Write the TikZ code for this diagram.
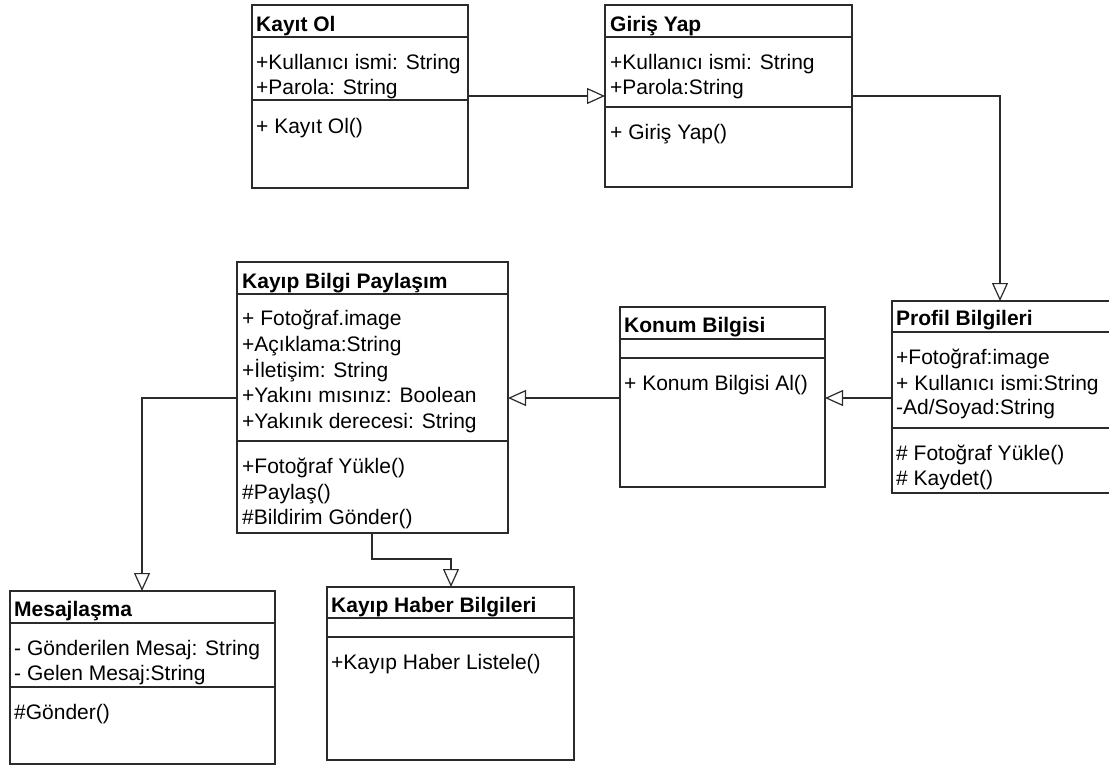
\documentclass[tikz,border=0pt]{standalone}
\usepackage{fontspec}
\setmainfont{Liberation Sans}
\usetikzlibrary{arrows.meta}
\definecolor{ln}{HTML}{2B2B2B}
\tikzset{
  box/.style={draw=ln, line width=1.2pt, fill=white, anchor=north west, inner sep=0pt, outer sep=0pt},
  txt/.style={anchor=base west, inner sep=0pt, font=\fontsize{21}{25}\selectfont},
  ttl/.style={txt, font=\fontsize{21}{25}\selectfont\bfseries},
  gen/.style={draw=ln, line width=1.2pt, -{Triangle[open, length=18pt, width=16pt, line width=1.2pt]}},
  dv/.style={draw=ln, line width=1.2pt}
}
\newcommand{\umlbox}[7]{%
  \node[box, minimum width=#4pt-#2pt, minimum height=#5pt-#3pt] (#1) at (#2,#3) {};
  \draw[dv] (#1.west |- 0,#6) -- (#1.east |- 0,#6);
  \draw[dv] (#1.west |- 0,#7) -- (#1.east |- 0,#7);
}
\begin{document}
\begin{tikzpicture}[x=1pt,y=-1pt]
\useasboundingbox (0,0) rectangle (1109,766);
\fill[white] (0,0) rectangle (1109,766);

% Kayit Ol
\umlbox{kayit}{252}{5}{468}{188}{37}{100}
\node[ttl] (kayit-t) at (256,31) {Kayıt Ol};
\node[txt] (kayit-a1) at (256,69) {+Kullanıcı ismi: String};
\node[txt] (kayit-a2) at (256,94) {+Parola: String};
\node[txt] (kayit-m1) at (256,133) {+ Kayıt Ol()};

% Giris Yap
\umlbox{giris}{605}{5}{852}{187}{37}{107}
\node[ttl] (giris-t) at (610,31) {Giriş Yap};
\node[txt] (giris-a1) at (610,69) {+Kullanıcı ismi: String};
\node[txt] (giris-a2) at (610,94) {+Parola:String};
\node[txt] (giris-m1) at (610,139) {+ Giriş Yap()};

% Kayip Bilgi Paylasim
\umlbox{kayip}{237}{262}{508}{533}{294}{441}
\node[ttl] (kayip-t) at (242,288) {Kayıp Bilgi Paylaşım};
\node[txt] (kayip-a1) at (242,325) {+ Fotoğraf.image};
\node[txt] (kayip-a2) at (242,351) {+Açıklama:String};
\node[txt] (kayip-a3) at (242,377) {+İletişim: String};
\node[txt] (kayip-a4) at (242,402) {+Yakını mısınız: Boolean};
\node[txt] (kayip-a5) at (242,428) {+Yakınık derecesi: String};
\node[txt] (kayip-m1) at (242,473) {+Fotoğraf Yükle()};
\node[txt] (kayip-m2) at (242,499) {\#Paylaş()};
\node[txt] (kayip-m3) at (242,524) {\#Bildirim Gönder()};

% Konum Bilgisi
\umlbox{konum}{620}{307}{825}{487}{339}{358}
\node[ttl] (konum-t) at (624,332) {Konum Bilgisi};
\node[txt] (konum-m1) at (624,390) {+ Konum Bilgisi Al()};

% Profil Bilgileri
\umlbox{profil}{892}{301}{1120}{493}{332}{428}
\node[ttl] (profil-t) at (896,325) {Profil Bilgileri};
\node[txt] (profil-a1) at (896,364) {+Fotoğraf:image};
\node[txt] (profil-a2) at (896,390) {+ Kullanıcı ismi:String};
\node[txt] (profil-a3) at (896,414) {-Ad/Soyad:String};
\node[txt] (profil-m1) at (896,460) {\# Fotoğraf Yükle()};
\node[txt] (profil-m2) at (896,485) {\# Kaydet()};

% Mesajlasma
\umlbox{mesaj}{10}{591}{275}{764}{623}{687}
\node[ttl] (mesaj-t) at (14,616) {Mesajlaşma};
\node[txt] (mesaj-a1) at (14,655) {- Gönderilen Mesaj: String};
\node[txt] (mesaj-a2) at (14,680) {- Gelen Mesaj:String};
\node[txt] (mesaj-m1) at (14,719) {\#Gönder()};

% Kayip Haber Bilgileri
\umlbox{haber}{327}{587}{574}{760}{618}{637}
\node[ttl] (haber-t) at (331,612) {Kayıp Haber Bilgileri};
\node[txt] (haber-m1) at (331,669) {+Kayıp Haber Listele()};

% Connectors
\draw[gen] (kayit.east |- 0,96) -- (giris.west |- 0,96);
\draw[gen] (giris.east |- 0,96) -| (profil.north -| 1000,0);
\draw[gen] (profil.west |- 0,398) -- (konum.east |- 0,398);
\draw[gen] (konum.west |- 0,398) -- (kayip.east |- 0,398);
\draw[gen] (kayip.west |- 0,398) -| (mesaj.north -| 142,0);
\coordinate (bend) at (372,559);
\draw[gen] (kayip.south -| bend) |- (bend -| 451,0) -- (haber.north -| 451,0);
\end{tikzpicture}
\end{document}
